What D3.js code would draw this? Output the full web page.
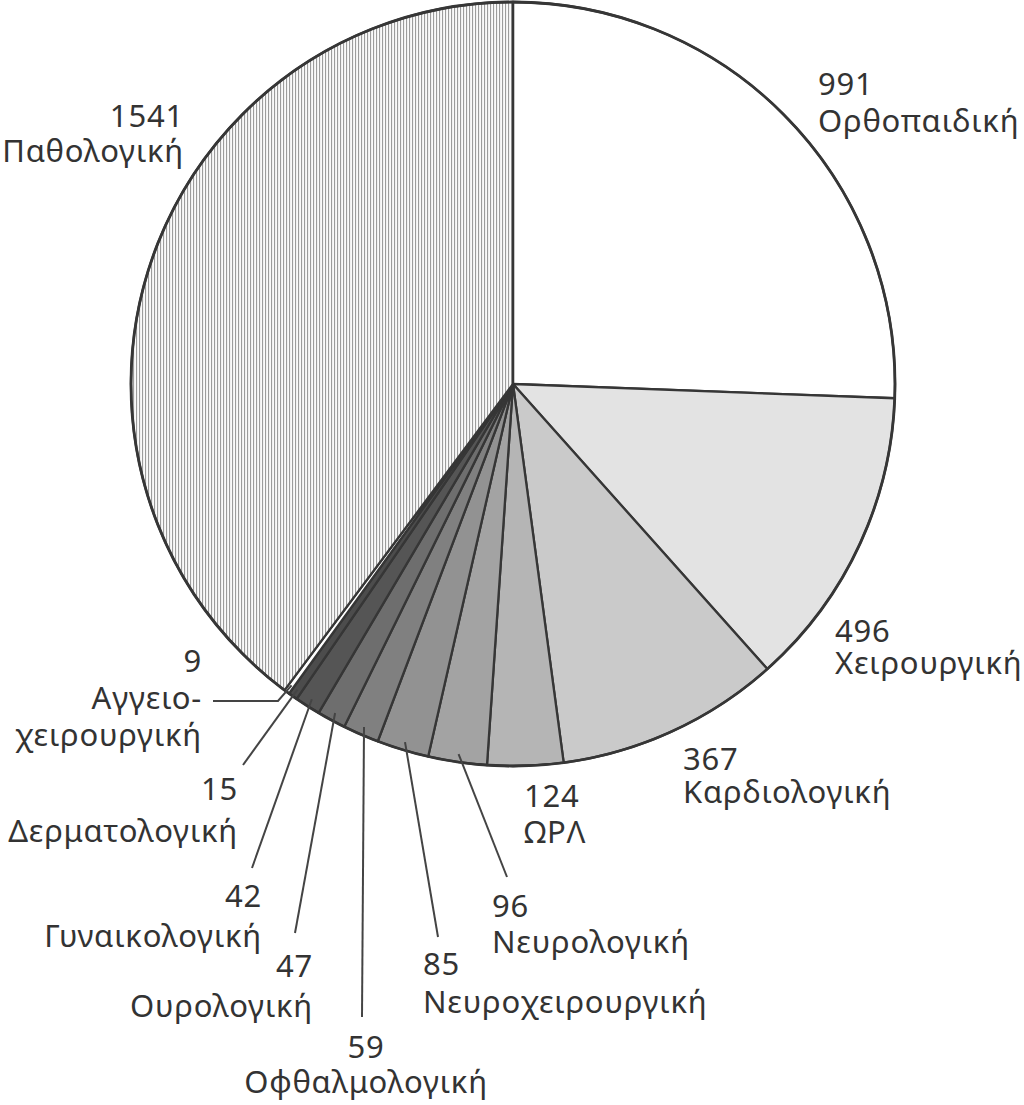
<!DOCTYPE html>
<html>
<head>
<meta charset="utf-8">
<script src="https://cdn.jsdelivr.net/npm/d3@7"></script>
<style>
  html, body { margin: 0; padding: 0; background: #fff; }
  svg { display: block; }
  text { font-family: "Noto Sans", "Open Sans", sans-serif; fill: #333; }
</style>
</head>
<body>
<div class="chart"></div>
<script>
// clinic departments, clockwise from 12 o'clock
var categories = ["Ορθοπαιδική", "Χειρουργική", "Καρδιολογική", "ΩΡΛ", "Νευρολογική",
                  "Νευροχειρουργική", "Οφθαλμολογική", "Ουρολογική", "Γυναικολογική",
                  "Δερματολογική", "Αγγειοχειρουργική", "Παθολογική"];
var values = [991, 496, 367, 124, 96, 85, 59, 47, 42, 15, 9, 1541];

// grey shades of the slices (last one gets the striped pattern)
var fills = ["#ffffff", "#e3e3e3", "#cacaca", "#b5b5b5", "#a3a3a3", "#929292",
             "#808080", "#6e6e6e", "#555555", "#4c4c4c", "#ffffff", "url(#stripes)"];

// where each label sits (page coords), and where its leader line ends
var labelPos = [
  {x: 818, y: 95,   dy: 37, anchor: "start"},
  {x: 835, y: 642,  dy: 32, anchor: "start"},
  {x: 683, y: 770,  dy: 33, anchor: "start"},
  {x: 524, y: 807,  dy: 36, anchor: "start"},
  {x: 492, y: 917,  dy: 36, anchor: "start", leader: [[507, 877]]},
  {x: 423, y: 975,  dy: 38, anchor: "start", leader: [[438, 937]]},
  {x: 366, y: 1058, dy: 35, anchor: "middle", leader: [[362, 1017]]},
  {x: 313, y: 977,  dy: 40, anchor: "end", leader: [[295, 933]]},
  {x: 262, y: 907,  dy: 40, anchor: "end", leader: [[252, 868]]},
  {x: 238, y: 800,  dy: 42, anchor: "end", leader: [[243, 765]]},
  {x: 202, y: 672,  dy: 37, anchor: "end", lines: ["Αγγειο-", "χειρουργική"],
   leader: [[278, 701], [213, 701]]},
  {x: 184, y: 127,  dy: 35, anchor: "end"}
];

var width = 1024, height = 1105;
var cx = 513, cy = 384, radius = 382;

var svg = d3.select(".chart")
            .append("svg")
            .attr("width", width)
            .attr("height", height);

// vertical hatching for Παθολογική
var pat = svg.append("defs")
             .append("pattern")
             .attr("id", "stripes")
             .attr("patternUnits", "userSpaceOnUse")
             .attr("width", 3)
             .attr("height", 10);
pat.append("rect").attr("width", 3).attr("height", 10).attr("fill", "#fafafa");
pat.append("rect").attr("x", 1).attr("width", 1.1).attr("height", 10).attr("fill", "#9c9c9c");

var pie = d3.pie().sort(null).value(function(d) { return d; });
var arcs = pie(values);

var arc = d3.arc().innerRadius(0).outerRadius(radius);
var edge = d3.arc().innerRadius(radius - 8).outerRadius(radius - 8);

var g = svg.append("g").attr("transform", "translate(" + cx + "," + cy + ")");

g.selectAll("path.slice")
 .data(arcs)
 .enter()
 .append("path")
 .attr("class", "slice")
 .attr("d", arc)
 .style("fill", function(d, i) { return fills[i]; })
 .style("stroke", "#363636")
 .style("stroke-width", 2.3)
 .style("stroke-linejoin", "round");

g.append("circle")
 .attr("r", radius)
 .style("fill", "none")
 .style("stroke", "#363636")
 .style("stroke-width", 2.8);

// leader lines
var line = d3.line();
arcs.forEach(function(d, i) {
  var p = labelPos[i];
  if (!p.leader) return;
  var c = edge.centroid(d);
  var pts = [[c[0] + cx, c[1] + cy]].concat(p.leader);
  svg.append("path")
     .attr("d", line(pts))
     .style("fill", "none")
     .style("stroke", "#444")
     .style("stroke-width", 2);
});

// labels: value on the first line, name below
arcs.forEach(function(d, i) {
  var p = labelPos[i];
  var lines = [String(values[i])].concat(p.lines || [categories[i]]);
  lines.forEach(function(s, k) {
    svg.append("text")
       .attr("x", p.x)
       .attr("y", p.y + k * p.dy)
       .attr("text-anchor", p.anchor)
       .style("font-size", "31px")
       .style("letter-spacing", "0.8px")
       .text(s);
  });
});
</script>
</body>
</html>
